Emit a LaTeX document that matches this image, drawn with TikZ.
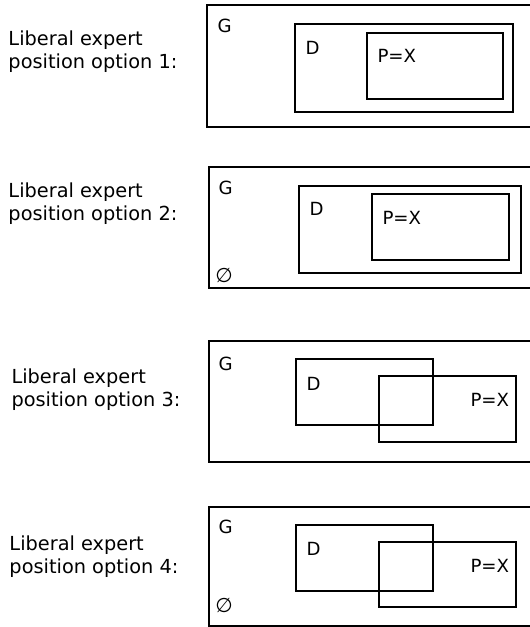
\documentclass[tikz,border=0pt]{standalone}
\usepackage{fontspec}
\setmainfont{DejaVu Sans}
\usepackage{tikz}
\tikzset{every picture/.style={line width=0.75pt}}
\tikzset{
  gbox/.style={draw=black, line width=1.1pt},
  setbox/.style={draw=black, line width=0.95pt},
  optlabel/.style={anchor=north west, inner sep=0pt, align=left, font=\fontsize{14.5}{16.8}\selectfont},
  setlabel/.style={anchor=base west, inner sep=0pt, font=\fontsize{13.6}{15}\selectfont},
  emptylabel/.style={anchor=center, inner sep=0pt, font=\fontsize{15}{16}\selectfont}
}

\begin{document}
\begin{tikzpicture}[x=0.75pt,y=0.75pt,yscale=-1,xscale=1]
\useasboundingbox (0,0) rectangle (530,627);

%Option 1
\draw [gbox] (207,5) rectangle (545,127);
\draw [setbox] (295,24) rectangle (513,112);
\draw [setbox] (367,33) rectangle (503,99);
\node [optlabel] (opt1) at (8,30.5) {Liberal expert\\position option 1:};
\node [setlabel] (g1) at (217,33) {G};
\node [setlabel] (d1) at (305,55) {D};
\node [setlabel] (p1) at (377,63) {P=X};

%Option 2
\draw [gbox] (209,167) rectangle (545,288);
\draw [setbox] (299,186) rectangle (521,273);
\draw [setbox] (372,194) rectangle (509,260);
\node [optlabel] (opt2) at (8,182.5) {Liberal expert\\position option 2:};
\node [setlabel] (g2) at (218,195) {G};
\node [setlabel] (d2) at (309,215) {D};
\node [setlabel] (p2) at (382,224) {P=X};
\node [emptylabel] (e2) at (224,275) {∅};

%Option 3
\draw [gbox] (209,341) rectangle (545,462);
\draw [setbox] (296,359) rectangle (433,425);
\draw [setbox] (379,376) rectangle (516,442);
\node [optlabel] (opt3) at (11,368.5) {Liberal expert\\position option 3:};
\node [setlabel] (g3) at (218,370) {G};
\node [setlabel] (d3) at (306,390) {D};
\node [setlabel] (p3) at (470,406) {P=X};

%Option 4
\draw [gbox] (209,507) rectangle (545,626);
\draw [setbox] (296,525) rectangle (433,591);
\draw [setbox] (379,542) rectangle (516,607);
\node [optlabel] (opt4) at (9,535.5) {Liberal expert\\position option 4:};
\node [setlabel] (g4) at (218,533) {G};
\node [setlabel] (d4) at (306,555) {D};
\node [setlabel] (p4) at (470,572) {P=X};
\node [emptylabel] (e4) at (224,605) {∅};
\end{tikzpicture}
\end{document}
